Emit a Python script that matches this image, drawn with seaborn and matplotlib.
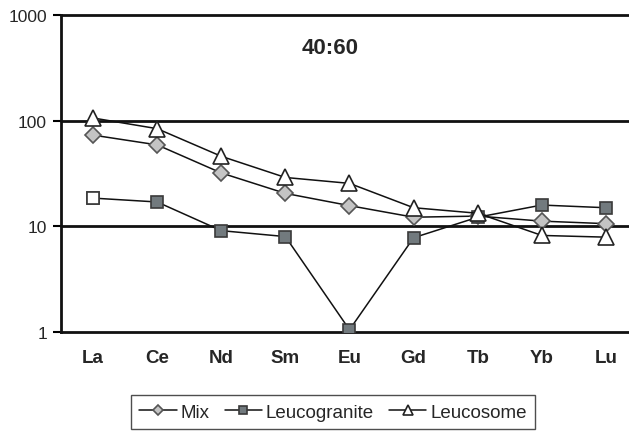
import numpy as np
import pandas as pd
import matplotlib
matplotlib.use("Agg")
import matplotlib.pyplot as plt
import seaborn as sns

# REE values
elements = ["La", "Ce", "Nd", "Sm", "Eu", "Gd", "Tb", "Yb", "Lu"]
mix = [73, 59, 32, 20.5, 15.7, 12.2, 12.5, 11.2, 10.6]
leucogranite = [18.5, 17, 9.1, 8.0, 1.05, 7.8, 12.2, 15.9, 15.0]
leucosome = [106, 84, 46, 29, 25.5, 15, 13.3, 8.2, 7.9]

sns.set_style("white")
plt.rcParams["font.family"] = ["Liberation Sans", "DejaVu Sans"]

fig = plt.figure(figsize=(6.29, 4.35), dpi=100)
ax = fig.add_axes([61 / 629, 102 / 435, 568 / 629, 317 / 435])

x = np.arange(len(elements))
styles = {
    "Mix": (mix, "D", "#c4c4c4", "#555555", 8),
    "Leucogranite": (leucogranite, "s", "#727a7e", "#3a3a3a", 8.5),
    "Leucosome": (leucosome, "^", "white", "#222222", 11),
}
for name, (vals, mk, fc, ec, ms) in styles.items():
    df = pd.DataFrame({"x": x, "y": vals})
    sns.lineplot(data=df, x="x", y="y", ax=ax, color="#111111", lw=1.1,
                 marker=mk, markersize=ms, markerfacecolor=fc,
                 markeredgecolor=ec, markeredgewidth=1.2, label=name,
                 sort=False, zorder=3)

# first leucogranite point drawn with open square
ax.plot(x[0], leucogranite[0], ls="none", marker="s", markersize=8.5,
        markerfacecolor="white", markeredgecolor="#3a3a3a",
        markeredgewidth=1.2, zorder=4)

ax.set_yscale("log")
ax.set_ylim(1, 1000)
ax.set_xlim(-0.5, 8.36)
ax.set_yticks([1, 10, 100, 1000])
ax.set_yticklabels(["1", "10", "100", "1000"], fontsize=12.5)
ax.yaxis.set_minor_locator(matplotlib.ticker.NullLocator())
ax.set_xticks(x)
ax.set_xticklabels(elements, fontsize=13.5, fontweight="bold")
ax.tick_params(axis="y", length=6, width=1.5, color="black", pad=4, left=True)
ax.tick_params(axis="x", length=0, pad=12)
for v in [10, 100, 1000]:
    ax.axhline(v, color="#111111", lw=2, zorder=1, clip_on=False)
ax.set_xlabel("")
ax.set_ylabel("")
for side in ["top", "right"]:
    ax.spines[side].set_visible(False)
ax.spines["left"].set_color("#111111")
ax.spines["left"].set_linewidth(2)
ax.spines["bottom"].set_color("#111111")
ax.spines["bottom"].set_linewidth(2)

ax.text(330 / 629, 1 - 48 / 435, "40:60", transform=fig.transFigure,
        ha="center", va="center", fontsize=16, fontweight="bold")

if ax.legend_:
    ax.legend_.remove()
handles, labels = ax.get_legend_handles_labels()
leg = fig.legend(handles[:3], labels[:3], loc="center",
                 bbox_to_anchor=(333 / 629, 1 - 413 / 435), ncol=3,
                 frameon=True, fancybox=False, edgecolor="#222222",
                 fontsize=13.5, handlelength=2.0, handletextpad=0.2,
                 columnspacing=0.8, borderpad=0.45, markerscale=0.7)
leg.get_frame().set_linewidth(1)

fig.savefig("out.png", dpi=100)
